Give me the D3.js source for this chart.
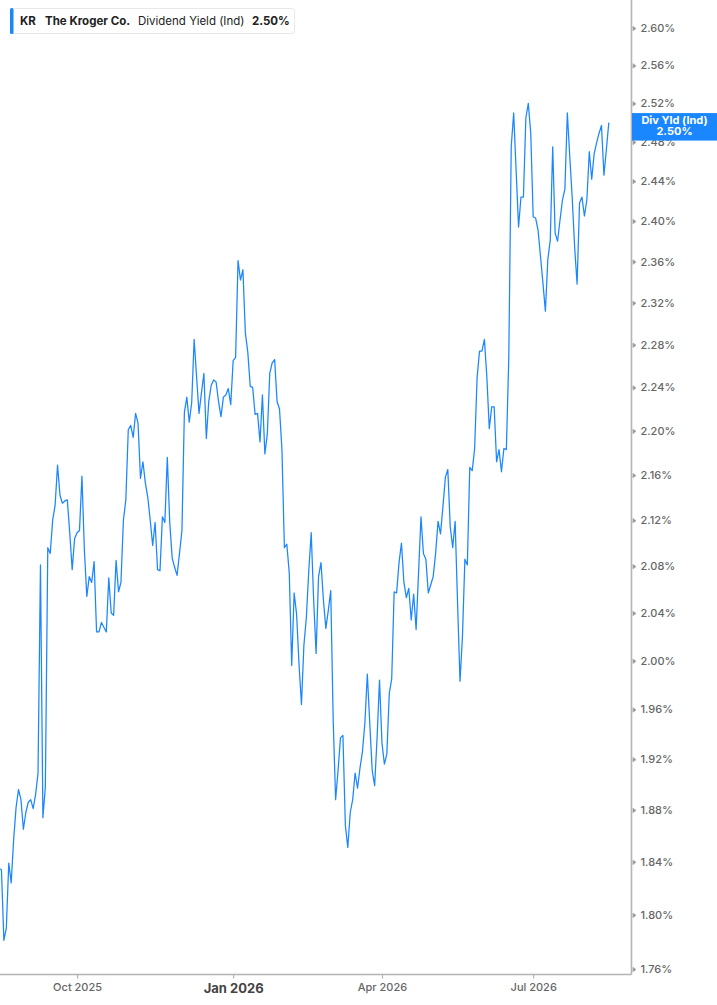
<!DOCTYPE html>
<html>
<head>
<meta charset="utf-8">
<script src="https://cdnjs.cloudflare.com/ajax/libs/d3/7.8.5/d3.min.js"></script>
<style>
  html, body { margin: 0; padding: 0; background: #fff; }
  body { font-family: Inter, "Noto Sans", sans-serif; }
  .axis path, .axis line { stroke: #b3b3b3; }
  .axis text { fill: #666; font-family: Inter, sans-serif; }
</style>
</head>
<body>
<script>
(function(){
// one year of daily dividend yield (%), first trading day 2025-08-15
var startDay = "2025-08-15";
var holidays = ["2025-09-01", "2025-11-27", "2025-12-25", "2026-01-01", "2026-01-19",
                "2026-02-16", "2026-04-03", "2026-05-25", "2026-06-19", "2026-07-03"];
var yieldValues = [
    1.835, 1.834, 1.781, 1.790, 1.839, 1.824, 1.857, 1.882, 1.896, 1.888,
    1.865, 1.878, 1.886, 1.888, 1.881, 1.892, 1.909, 2.081, 1.874, 1.898,
    2.096, 2.091, 2.120, 2.133, 2.169, 2.142, 2.135, 2.137, 2.138, 2.109,
    2.077, 2.104, 2.109, 2.111, 2.159, 2.094, 2.054, 2.071, 2.066, 2.084,
    2.024, 2.024, 2.032, 2.028, 2.024, 2.070, 2.040, 2.038, 2.085, 2.058,
    2.066, 2.120, 2.138, 2.201, 2.205, 2.194, 2.216, 2.207, 2.157, 2.172,
    2.153, 2.140, 2.120, 2.098, 2.118, 2.077, 2.076, 2.123, 2.118, 2.176,
    2.118, 2.087, 2.079, 2.072, 2.091, 2.111, 2.217, 2.231, 2.208, 2.226,
    2.285, 2.250, 2.216, 2.235, 2.253, 2.193, 2.227, 2.242, 2.247, 2.245,
    2.227, 2.213, 2.231, 2.233, 2.239, 2.224, 2.265, 2.268, 2.361, 2.342,
    2.352, 2.291, 2.273, 2.241, 2.240, 2.215, 2.216, 2.190, 2.233, 2.179,
    2.197, 2.253, 2.263, 2.266, 2.227, 2.220, 2.183, 2.096, 2.099, 2.074,
    1.996, 2.057, 2.039, 1.997, 1.964, 2.013, 2.036, 2.076, 2.109, 2.051,
    2.006, 2.071, 2.083, 2.051, 2.027, 2.042, 2.059, 1.952, 1.888, 1.911,
    1.937, 1.939, 1.868, 1.851, 1.878, 1.888, 1.909, 1.897, 1.913, 1.926,
    1.949, 1.989, 1.949, 1.911, 1.899, 1.937, 1.984, 1.933, 1.916, 1.924,
    1.973, 1.985, 2.058, 2.057, 2.083, 2.100, 2.066, 2.053, 2.061, 2.034,
    2.056, 2.026, 2.074, 2.123, 2.091, 2.086, 2.057, 2.064, 2.071, 2.091,
    2.119, 2.108, 2.132, 2.158, 2.165, 2.114, 2.096, 2.119, 2.048, 1.983,
    2.020, 2.086, 2.081, 2.167, 2.164, 2.184, 2.249, 2.274, 2.274, 2.285,
    2.250, 2.202, 2.222, 2.222, 2.172, 2.183, 2.163, 2.184, 2.183, 2.268,
    2.475, 2.510, 2.451, 2.394, 2.424, 2.424, 2.505, 2.520, 2.489, 2.404,
    2.403, 2.391, 2.365, 2.339, 2.312, 2.362, 2.381, 2.475, 2.388, 2.380,
    2.401, 2.421, 2.432, 2.510, 2.465, 2.423, 2.374, 2.338, 2.418, 2.424,
    2.405, 2.421, 2.470, 2.442, 2.468, 2.479, 2.489, 2.497, 2.446, 2.472,
    2.500
];
var yTicks = [1.76, 1.80, 1.84, 1.88, 1.92, 1.96, 2.00, 2.04, 2.08, 2.12, 2.16,
              2.20, 2.24, 2.28, 2.32, 2.36, 2.40, 2.44, 2.48, 2.52, 2.56, 2.60];
var xTickDays = ["2025-10-01", "2026-01-02", "2026-04-01", "2026-07-01"];
var xTickLabels = ["Oct 2025", "Jan 2026", "Apr 2026", "Jul 2026"];
var ticker = "KR", company = "The Kroger Co.", metric = "Dividend Yield (Ind)", shortMetric = "Div Yld (Ind)";

var width = 717, height = 1005,
    plotRight = 631.5, plotBottom = 974.5;
var blue = "#1a86ff";

// build trading day list (weekdays minus exchange holidays)
var fmt = d3.timeFormat("%Y-%m-%d");
var days = [];
var d = d3.timeParse("%Y-%m-%d")(startDay);
while (days.length < yieldValues.length){
    var key = fmt(d);
    if (d.getDay() != 0 && d.getDay() != 6 && holidays.indexOf(key) < 0) days.push(key);
    d = d3.timeDay.offset(d, 1);
}
var data = days.map(function(k, i){ return {day: k, value: yieldValues[i]}; });

var svg = d3.select("body").append("svg")
    .attr("width", width)
    .attr("height", height);

var x = d3.scalePoint()
    .domain(days)
    .range([-1, 608.8]);

var y = d3.scaleLog()
    .domain([1.76, 2.60])
    .range([969, 28]);

svg.append("clipPath").attr("id", "plotClip")
    .append("rect")
    .attr("x", 0).attr("y", 0)
    .attr("width", plotRight).attr("height", plotBottom);

//the line
var line = d3.line()
    .x(function(d){ return x(d.day); })
    .y(function(d){ return y(d.value); });

svg.append("path")
    .datum(data)
    .attr("clip-path", "url(#plotClip)")
    .attr("fill", "none")
    .attr("stroke", blue)
    .attr("stroke-width", 1.25)
    .attr("stroke-linejoin", "round")
    .attr("d", line);

//bottom axis
var xAxis = d3.axisBottom(x)
    .tickValues(xTickDays)
    .tickSize(4)
    .tickPadding(5)
    .tickFormat(function(d){ return xTickLabels[xTickDays.indexOf(d)]; });

var gx = svg.append("g")
    .attr("class", "axis")
    .attr("transform", "translate(0," + plotBottom + ")")
    .call(xAxis);
gx.select(".domain").remove();
gx.selectAll("line").attr("stroke-width", 1.2);
gx.selectAll("text")
    .style("font-size", "11px")
    .style("font-weight", 500)
    .filter(function(d){ return d == "2026-01-02"; })
    .style("font-size", "13px")
    .style("font-weight", 700)
    .style("fill", "#444");

//right axis
var yAxis = d3.axisRight(y)
    .tickValues(yTicks)
    .tickSize(0)
    .tickPadding(9)
    .tickFormat(function(d){ return d3.format(".2f")(d) + "%"; });

var gy = svg.append("g")
    .attr("class", "axis")
    .attr("transform", "translate(" + plotRight + ",0)")
    .call(yAxis);
gy.select(".domain").remove();
gy.selectAll("text").style("font-size", "11px").style("font-weight", 500);
gy.selectAll(".tick").append("path")
    .attr("d", "M1.5,-2.2L4.5,0L1.5,2.2Z")
    .attr("fill", "#888");

//frame lines
svg.append("line")
    .attr("x1", plotRight).attr("x2", plotRight)
    .attr("y1", 0).attr("y2", plotBottom)
    .attr("stroke", "#b3b3b3").attr("stroke-width", 1.6);
svg.append("line")
    .attr("x1", 0).attr("x2", plotRight)
    .attr("y1", plotBottom).attr("y2", plotBottom)
    .attr("stroke", "#b3b3b3").attr("stroke-width", 1.6);

//last value tag on the axis (covers part of the nearby tick label, as in the source)
var last = data[data.length - 1];
var tag = svg.append("g")
    .attr("transform", "translate(" + plotRight + "," + y(last.value) + ")");
tag.append("rect")
    .attr("x", 0.5).attr("y", -9.5)
    .attr("width", width - plotRight).attr("height", 27.5)
    .attr("fill", blue);
tag.append("text")
    .attr("x", 43).attr("y", 1.5)
    .attr("text-anchor", "middle")
    .style("font-size", "11px").style("font-weight", 700).style("fill", "#fff")
    .text(shortMetric);
tag.append("text")
    .attr("x", 43).attr("y", 12.5)
    .attr("text-anchor", "middle")
    .style("font-size", "11px").style("font-weight", 700).style("fill", "#fff")
    .text(d3.format(".2f")(last.value) + "%");

//legend box
var legend = svg.append("g");
legend.append("rect")
    .attr("x", 10.5).attr("y", 8.5)
    .attr("width", 284).attr("height", 25)
    .attr("rx", 3)
    .attr("fill", "#fff")
    .attr("stroke", "#e8e8e8");
legend.append("rect")
    .attr("x", 10).attr("y", 8)
    .attr("width", 3.5).attr("height", 26)
    .attr("rx", 1.5)
    .attr("fill", blue);
var legendItems = [
    {t: ticker, x: 20, w: 700},
    {t: company, x: 45, w: 700},
    {t: metric, x: 138, w: 400},
    {t: d3.format(".2f")(last.value) + "%", x: 252, w: 700}
];
legend.selectAll("text.leg")
    .data(legendItems)
    .enter()
    .append("text")
    .attr("class", "leg")
    .attr("x", function(d){ return d.x; })
    .attr("y", 25)
    .style("font-size", "11.5px")
    .style("font-weight", function(d){ return d.w; })
    .style("fill", "#222")
    .text(function(d){ return d.t; });

})();
</script>
</body>
</html>
